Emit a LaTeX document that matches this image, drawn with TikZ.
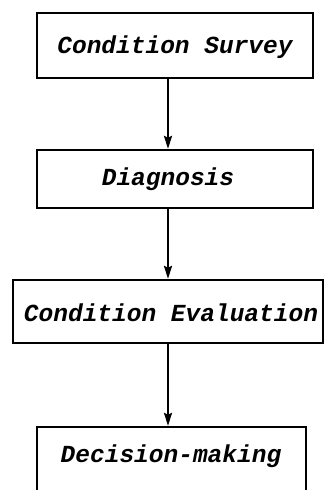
\documentclass[tikz,border=0pt]{standalone}
\usepackage{fontspec}
\setmonofont{Liberation Mono}
\usetikzlibrary{arrows.meta}
\begin{document}
\begin{tikzpicture}[x=1pt,y=-1pt,
  stagebox/.style={draw, line width=2.3pt, rectangle, inner sep=0pt},
  stagetext/.style={font=\fontsize{24.5}{24.5}\selectfont\ttfamily\bfseries\itshape},
  flow/.style={line width=2.3pt, -{Stealth[length=13pt,width=8pt,inset=2pt]}}]
  \useasboundingbox (0,0) rectangle (324,490);
  % stage boxes
  \node[stagebox, minimum width=276pt, minimum height=65pt] (survey) at (175,45.5) {};
  \node[stagebox, minimum width=276pt, minimum height=58pt] (diag) at (175,179) {};
  \node[stagebox, minimum width=310pt, minimum height=63pt] (eval) at (168,311.5) {};
  \node[stagebox, minimum width=269pt, minimum height=70pt] (decide) at (171.5,462) {};
  % labels
  \node[stagetext] (t1) at (175,47) {Condition Survey};
  \node[stagetext] (t2) at (168,179) {Diagnosis};
  \node[stagetext] (t3) at (171,313) {Condition Evaluation};
  \node[stagetext] (t4) at (171,456) {Decision-making};
  % connectors along the common axis
  \coordinate (axis) at (168,0);
  \draw[flow] (survey.south -| axis) -- (diag.north -| axis);
  \draw[flow] (diag.south -| axis) -- (eval.north -| axis);
  \draw[flow] (eval.south -| axis) -- (decide.north -| axis);
\end{tikzpicture}
\end{document}
